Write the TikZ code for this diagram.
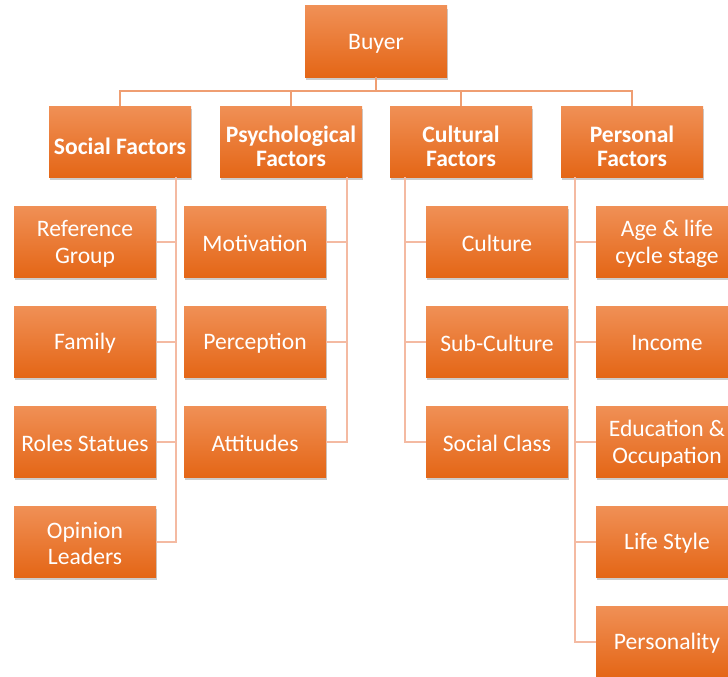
\documentclass[tikz,border=0pt]{standalone}
\usepackage{fontspec}
\setmainfont{Carlito}
\usetikzlibrary{shadows}
\definecolor{otop}{RGB}{240,144,86}
\definecolor{omid}{RGB}{241,122,38}
\definecolor{obot}{RGB}{228,102,22}
\definecolor{busc}{RGB}{239,158,114}
\definecolor{spinec}{RGB}{244,186,162}
\begin{document}
\begin{tikzpicture}[x=1pt,y=-1pt,
  box/.style={rectangle, minimum width=142pt, minimum height=71pt, inner sep=0pt,
    top color=otop, middle color=omid, bottom color=obot,
    drop shadow={shadow xshift=0.5pt, shadow yshift=-3pt, opacity=0.2, fill=black}},
  lab/.style={align=center, text=white, inner sep=0pt, yshift=-2pt,
    font=\fontsize{23.6}{26.7}\selectfont},
  headlab/.style={lab, yshift=-3pt, font=\fontsize{23.6}{23.5}\selectfont\bfseries},
  bus/.style={draw=busc, line width=2pt},
  spine/.style={draw=spinec, line width=2pt}]
\useasboundingbox (0,0) rectangle (728,677);
\clip (0,0) rectangle (728,677);
% top
\node[box, label={[lab]center:Buyer}] (buyer) at (376,41.5) {};
\node[box, label={[headlab]center:Social Factors}] (social) at (120,141.5) {};
\node[box, label={[headlab]center:{Psychological\\Factors}}] (psych) at (291,141.5) {};
\node[box, label={[headlab]center:{Cultural\\Factors}}] (cult) at (461,141.5) {};
\node[box, label={[headlab]center:{Personal\\Factors}}] (pers) at (632,141.5) {};
% social
\node[box, label={[lab]center:{Reference\\Group}}] (s1) at (85,241.5) {};
\node[box, label={[lab]center:Family}] (s2) at (85,341.5) {};
\node[box, label={[lab]center:Roles Statues}] (s3) at (85,441.5) {};
\node[box, label={[lab]center:{Opinion\\Leaders}}] (s4) at (85,541.5) {};
% psych
\node[box, label={[lab]center:Motivation}] (p1) at (255,241.5) {};
\node[box, label={[lab]center:Perception}] (p2) at (255,341.5) {};
\node[box, label={[lab]center:Attitudes}] (p3) at (255,441.5) {};
% cultural
\node[box, label={[lab]center:Culture}] (c1) at (497,241.5) {};
\node[box, label={[lab]center:Sub-Culture}] (c2) at (497,341.5) {};
\node[box, label={[lab]center:Social Class}] (c3) at (497,441.5) {};
% personal
\node[box, label={[lab]center:{Age \& life\\cycle stage}}] (r1) at (667,241.5) {};
\node[box, label={[lab]center:Income}] (r2) at (667,341.5) {};
\node[box, label={[lab]center:{Education \&\\Occupation}}] (r3) at (667,441.5) {};
\node[box, label={[lab]center:Life Style}] (r4) at (667,541.5) {};
\node[box, label={[lab]center:Personality}] (r5) at (667,641.5) {};
% bus
\foreach \n in {social,psych,cult,pers}
  \draw[bus] (buyer.south) -- ++(0,14) -| (\n.north);
% spines
\foreach \n in {s1,s2,s3,s4}
  \draw[spine] ([xshift=-15pt]social.south east) |- (\n.east);
\foreach \n in {p1,p2,p3}
  \draw[spine] ([xshift=-15pt]psych.south east) |- (\n.east);
\foreach \n in {c1,c2,c3}
  \draw[spine] ([xshift=15pt]cult.south west) |- (\n.west);
\foreach \n in {r1,r2,r3,r4,r5}
  \draw[spine] ([xshift=14pt]pers.south west) |- (\n.west);
\end{tikzpicture}
\end{document}
